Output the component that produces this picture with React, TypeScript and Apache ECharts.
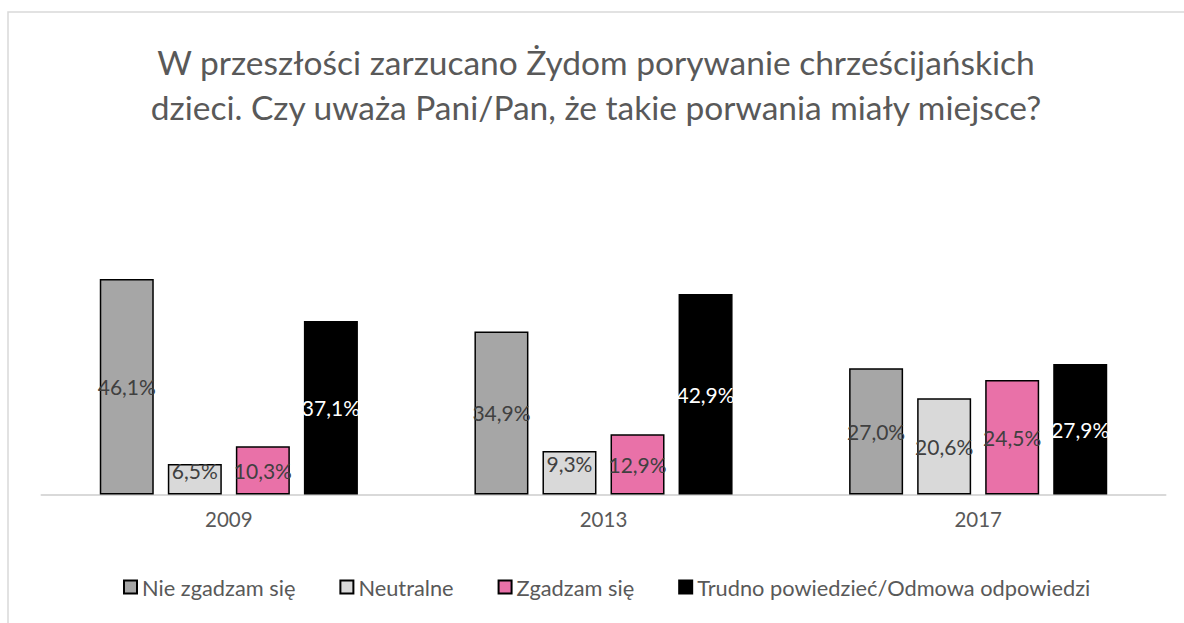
import React, { useEffect, useRef } from "react";
import * as echarts from "echarts";

const years = ["2009", "2013", "2017"];
const seriesNames = [
  "Nie zgadzam się",
  "Neutralne",
  "Zgadzam się",
  "Trudno powiedzieć/Odmowa odpowiedzi",
];
const nieZgadzam = [46.1, 34.9, 27.0];
const neutralne = [6.5, 9.3, 20.6];
const zgadzam = [10.3, 12.9, 24.5];
const trudno = [37.1, 42.9, 27.9];

const colors = ["#A6A6A6", "#D9D9D9", "#E971A8", "#000000"];
const labelColors = ["#404040", "#404040", "#404040", "#FFFFFF"];
const FONT = "Lato, 'Open Sans', sans-serif";

export default function App() {
  const ref = useRef<HTMLDivElement>(null);
  useEffect(() => {
    if (!ref.current) return;
    const chart = echarts.init(ref.current, undefined, { renderer: "svg" });
    const all = [nieZgadzam, neutralne, zgadzam, trudno];
    const series = all.map((vals, i) => ({
      name: seriesNames[i],
      type: "bar",
      barWidth: 54,
      barGap: "26%",
      data: vals.map((v) => ({
        value: v,
        label: { offset: [0, v < 10 ? -9 : 0] },
      })),
      itemStyle: {
        color: colors[i],
        borderColor: "#000000",
        borderWidth: 1.5,
      },
      label: {
        show: true,
        position: "inside",
        fontFamily: FONT,
        fontSize: 21,
        color: labelColors[i],
        formatter: (p: any) => p.value.toFixed(1).replace(".", ",") + "%",
      },
    }));
    chart.setOption({
      animation: false,
      textStyle: { fontFamily: FONT },
      title: {
        text:
          "W przeszłości zarzucano Żydom porywanie chrześcijańskich\ndzieci. Czy uważa Pani/Pan, że takie porwania miały miejsce?",
        left: 591,
        textAlign: "center",
        top: 34,
        textStyle: {
          fontFamily: FONT,
          fontSize: 33.5,
          lineHeight: 45,
          fontWeight: "normal",
          color: "#595959",
        },
      },
      legend: {
        left: 118,
        top: 571,
        itemWidth: 13,
        itemHeight: 13,
        itemGap: 44,
        icon: "rect",
        textStyle: { fontFamily: FONT, fontSize: 21.8, color: "#595959" },
        data: seriesNames,
      },
      grid: { left: 41.5, right: 18.5, top: 260.8, bottom: 128.5 },
      xAxis: {
        type: "category",
        data: years,
        axisLine: { lineStyle: { color: "#D9D9D9", width: 2 } },
        axisTick: { show: false },
        axisLabel: {
          fontFamily: FONT,
          fontSize: 20.5,
          color: "#595959",
          margin: 14,
        },
      },
      yAxis: {
        type: "value",
        min: 0,
        max: 50,
        show: false,
        splitLine: { show: false },
      },
      graphic: [
        {
          type: "rect",
          shape: { x: 8, y: 12, width: 1200, height: 640 },
          style: { fill: "none", stroke: "#D9D9D9", lineWidth: 1.5 },
          silent: true,
        },
      ],
      series,
    });
    return () => chart.dispose();
  }, []);
  return (
    <div
      ref={ref}
      style={{ position: "absolute", left: 0, top: 0, width: 1184, height: 623 }}
    />
  );
}
